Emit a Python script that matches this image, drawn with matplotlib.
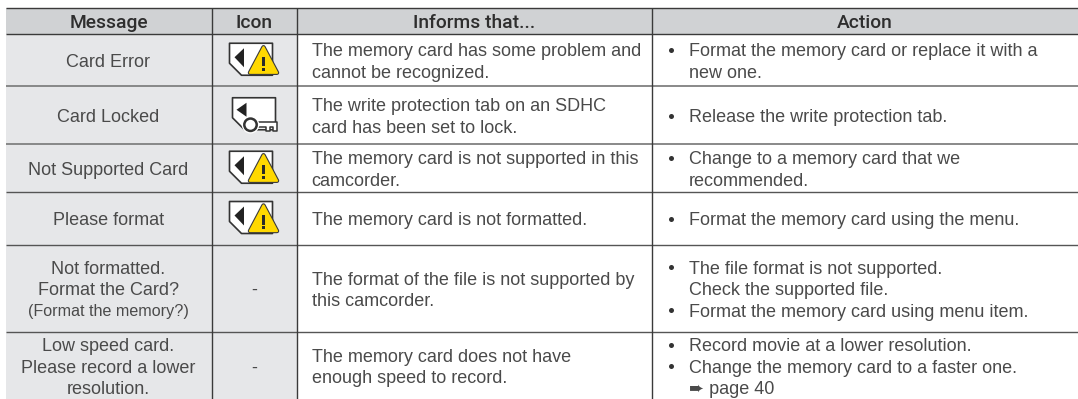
#!/usr/bin/env python3
"""Card message table, redrawn in pixel coordinates"""

import matplotlib
matplotlib.use('Agg')
import matplotlib.pyplot as plt
from matplotlib.patches import Rectangle, Polygon, Circle

W, H = 1078, 399

headers = ['Message', 'Icon', 'Informs that...', 'Action']

messages = [
    ['Card Error'],
    ['Card Locked'],
    ['Not Supported Card'],
    ['Please format'],
    ['Not formatted.', 'Format the Card?', '(Format the memory?)'],
    ['Low speed card.', 'Please record a lower', 'resolution.'],
]

icons = ['warn', 'lock', 'warn', 'warn', '-', '-']

informs = [
    ['The memory card has some problem and', 'cannot be recognized.'],
    ['The write protection tab on an SDHC', 'card has been set to lock.'],
    ['The memory card is not supported in this', 'camcorder.'],
    ['The memory card is not formatted.'],
    ['The format of the file is not supported by', 'this camcorder.'],
    ['The memory card does not have', 'enough speed to record.'],
]

# (line, starts with a bullet)
actions = [
    [('Format the memory card or replace it with a', True), ('new one.', False)],
    [('Release the write protection tab.', True)],
    [('Change to a memory card that we', True), ('recommended.', False)],
    [('Format the memory card using the menu.', True)],
    [('The file format is not supported.', True), ('Check the supported file.', False),
     ('Format the memory card using menu item.', True)],
    [('Record movie at a lower resolution.', True), ('Change the memory card to a faster one.', True),
     ('\u27a8 page 40', False)],
]

# table geometry
col_x = [6, 211.5, 296.5, 651.5, 1078]
row_y = [8, 34, 85.5, 144, 191.5, 244.5, 331.5, 399]
row_line_colors = ['#3a3a3a', '#3a3a3a', '#808080', '#808080', '#555555', '#555555', '#555555']
line_step = 21.4
text_color = '#4a4a4a'
FONT = 'Liberation Sans'
FS = 13.0
FS_SMALL = 11.6

fig = plt.figure(figsize=(W / 100, H / 100), dpi=100)
ax = fig.add_axes([0, 0, 1, 1])
ax.set_xlim(0, W)
ax.set_ylim(H, 0)
ax.axis('off')


def poly(points, ox, oy, **kw):
    ax.add_patch(Polygon([(ox + px, oy + py) for px, py in points], closed=True, joinstyle='round', **kw))


def card_outline(ox, oy):
    poly([(0, 0), (43, 0), (43, 32), (12, 32), (0, 20)], ox, oy, fc='white', ec='#333333', lw=1.2)


def warn_icon(ox, oy):
    card_outline(ox, oy)
    poly([(5, 14), (14.5, 5), (14.5, 24)], ox, oy, fc='#222222', ec='none')
    tri = [(34, 4), (20.5, 29.5), (47.5, 29.5)]
    poly(tri, ox, oy, fc='none', ec='#3a3a3a', lw=3.2)
    poly(tri, ox, oy, fc='#ffd800', ec='#ffd800', lw=1.6)
    ax.add_patch(Rectangle((ox + 32.6, oy + 13.5), 2.8, 9.5, fc='#2a2a2a', ec='none'))
    ax.add_patch(Rectangle((ox + 32.6, oy + 24.5), 2.8, 2.8, fc='#2a2a2a', ec='none'))


def lock_icon(ox, oy):
    card_outline(ox, oy)
    poly([(4, 12), (14, 5), (14, 19)], ox, oy, fc='#222222', ec='none')
    poly([(22, 24.5), (44, 24.5), (44, 33), (40, 33), (40, 29), (37, 29), (37, 33), (33, 33), (33, 29), (22, 29)],
         ox, oy, fc='white', ec='#333333', lw=1.1)
    ax.add_patch(Circle((ox + 18, oy + 27), 8.8, fc='white', ec='none'))
    ax.add_patch(Circle((ox + 18, oy + 27), 6.2, fc='white', ec='#333333', lw=1.8))


def put_lines(x, lines, centers, ha):
    for line, cy in zip(lines, centers):
        size = FS_SMALL if line.startswith('(') else FS
        ax.text(x, cy, line, ha=ha, va='center_baseline', fontsize=size, color=text_color,
                family=[FONT, 'DejaVu Sans'])


def line_centers(mid, n):
    return [mid + 0.8 + (j - (n - 1) / 2) * line_step for j in range(n)]


# backgrounds
ax.add_patch(Rectangle((col_x[0], row_y[0]), col_x[-1] - col_x[0], row_y[1] - row_y[0], fc='#d0d2d4', ec='none'))
ax.add_patch(Rectangle((col_x[0], row_y[1]), col_x[2] - col_x[0], row_y[-1] - row_y[1], fc='#e6e7e9', ec='none'))

# grid lines
for y, c in zip(row_y, row_line_colors):
    ax.plot([col_x[0], col_x[-1]], [y, y], color=c, lw=1.3 if c == '#808080' else 1.0, solid_capstyle='butt')
for x in col_x[1:-1]:
    ax.plot([x, x], [row_y[0], row_y[-1]], color='#3a3a3a', lw=1.0, solid_capstyle='butt')

# header
for i, head in enumerate(headers):
    ax.text((col_x[i] + col_x[i + 1]) / 2, (row_y[0] + row_y[1]) / 2 + 0.5, head, ha='center', va='center_baseline',
            fontsize=13.9, color='#2e2e2e', family='Roboto', fontweight='medium')

# rows
for r in range(len(messages)):
    mid = (row_y[r + 1] + row_y[r + 2]) / 2

    lines = messages[r]
    put_lines((col_x[0] + col_x[1]) / 2 - 0.5, lines, line_centers(mid, len(lines)), 'center')

    if icons[r] == 'warn':
        warn_icon(229.5, mid - 16.5)
    elif icons[r] == 'lock':
        lock_icon(232.5, mid - 17)
    else:
        put_lines((col_x[1] + col_x[2]) / 2, [icons[r]], [mid + 0.8], 'center')

    lines = informs[r]
    put_lines(311.5, lines, line_centers(mid, len(lines)), 'left')

    lines = actions[r]
    centers = line_centers(mid, len(lines))
    put_lines(689, [t for t, _ in lines], centers, 'left')
    bullet_y = [c for (t, b), c in zip(lines, centers) if b]
    ax.scatter([671] * len(bullet_y), bullet_y, s=13, color='#333333', linewidths=0)

fig.savefig('out.png', dpi=100)
